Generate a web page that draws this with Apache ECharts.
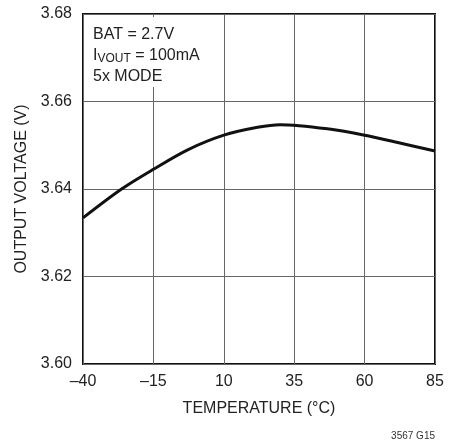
<!DOCTYPE html>
<html>
<head>
<meta charset="utf-8">
<script src="https://cdn.jsdelivr.net/npm/echarts@6/dist/echarts.min.js"></script>
<style>
  html, body { margin: 0; padding: 0; background: #fff; }
  #chart { width: 451px; height: 446px; }
</style>
</head>
<body>
<div id="chart"></div>
<script>
// data
var temps = [-40, -26.3, -15, -3, 10, 22, 30, 47.5, 60, 72.5, 85];
var volts = [3.6334, 3.6400, 3.6445, 3.6489, 3.6523, 3.6541, 3.6547, 3.6537, 3.6523, 3.6505, 3.6487];
var xTicks = [-40, -15, 10, 35, 60, 85];
var yTicks = [3.60, 3.62, 3.64, 3.66, 3.68];

var font = '"Liberation Sans Narrow", "Liberation Sans", Arial, sans-serif';
var textColor = '#222';

var chart = echarts.init(document.getElementById('chart'));
chart.setOption({
  animation: false,
  grid: {
    left: 83, right: 16, top: 14, bottom: 82,
    show: true, borderColor: '#111', borderWidth: 2
  },
  xAxis: {
    type: 'value',
    min: xTicks[0], max: xTicks[xTicks.length - 1], interval: 25,
    name: 'TEMPERATURE (°C)',
    nameLocation: 'middle', nameGap: 37,
    nameTextStyle: { fontFamily: font, fontSize: 16, color: textColor },
    axisLine: { show: false },
    axisTick: { show: false },
    axisLabel: {
      margin: 10, fontFamily: font, fontSize: 16, color: textColor,
      formatter: function (v) { return String(v).replace('-', '\u2013'); }
    },
    splitLine: { lineStyle: { color: '#666', width: 1 } }
  },
  yAxis: {
    type: 'value',
    min: yTicks[0], max: yTicks[yTicks.length - 1], interval: 0.02,
    name: 'OUTPUT VOLTAGE (V)',
    nameLocation: 'middle', nameGap: 51,
    nameTextStyle: { fontFamily: font, fontSize: 16, color: textColor },
    axisLine: { show: false },
    axisTick: { show: false },
    axisLabel: {
      margin: 11, fontFamily: font, fontSize: 16, color: textColor,
      formatter: function (v) { return v.toFixed(2); }
    },
    splitLine: { lineStyle: { color: '#666', width: 1 } }
  },
  graphic: [
    {
      type: 'rect', left: 86, top: 17, z: 10,
      shape: { width: 122, height: 70 },
      style: { fill: '#fff' }
    },
    {
      type: 'text', left: 93, top: 24, z: 11,
      style: {
        text: 'BAT = 2.7V\nI{sub|VOUT} = 100mA\n5x MODE',
        fontFamily: font, fontSize: 16, lineHeight: 21, fill: textColor,
        rich: {
          sub: { fontFamily: font, fontSize: 12, fill: textColor, padding: [7, 0, 0, 0], lineHeight: 21 }
        }
      }
    },
    {
      type: 'text', right: 16, top: 431,
      style: { text: '3567 G15', fontFamily: font, fontSize: 10, fill: '#333' }
    }
  ],
  series: [{
    type: 'line',
    data: temps.map(function (t, i) { return [t, volts[i]]; }),
    smooth: 0.3,
    showSymbol: false,
    lineStyle: { color: '#111', width: 3 }
  }]
});
</script>
</body>
</html>
